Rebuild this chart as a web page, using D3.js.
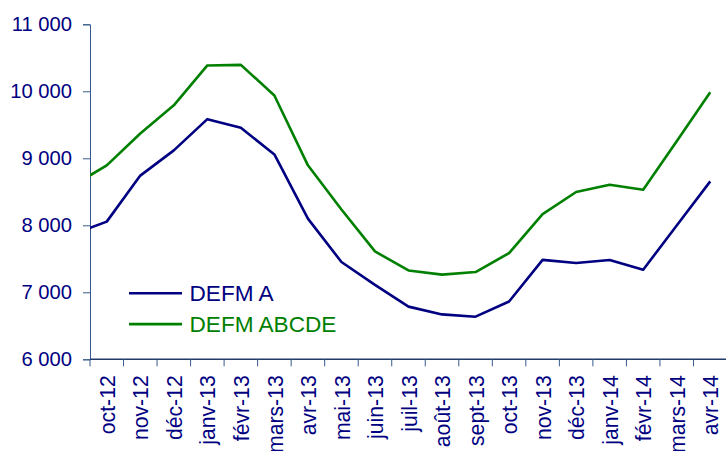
<!DOCTYPE html>
<html><head><meta charset="utf-8">
<script src="https://cdn.jsdelivr.net/npm/d3@7"></script>
<style>body{margin:0;background:#fff}svg{display:block}text{font-family:"Liberation Sans",Arial,sans-serif}</style>
</head><body><svg id="c" width="726" height="451"></svg>
<script>
const categories = ["oct-12","nov-12","déc-12","janv-13","févr-13","mars-13","avr-13","mai-13","juin-13","juil-13","août-13","sept-13","oct-13","nov-13","déc-13","janv-14","févr-14","mars-14","avr-14"];
// value of the month preceding the first category (line enters from the left edge)
const leadIn = {A: 7865, ABCDE: 8595};
const defmA = [8055,8742,9118,9584,9455,9058,8100,7452,7110,6786,6670,6636,6862,7484,7437,7482,7336,7998,8656];
const defmABCDE = [8895,9370,9790,10386,10395,9938,8895,8235,7610,7326,7264,7302,7586,8168,8497,8605,8530,9255,9987];
const yTicks = [6000,7000,8000,9000,10000,11000];
const seriesNames = ["DEFM A","DEFM ABCDE"];
const colors = ["#000080","#008000"];
const axisColor = "#355a8a";

const svg = d3.select("#c");
const mLeft = 90, mRight = 727, mTop = 24.3, mBottom = 359.3;
const x = d3.scaleBand().domain(categories).range([mLeft, mRight]);
const bw = x.bandwidth();
const y = d3.scaleLinear().domain([6000, 11000]).range([mBottom, mTop]);
const fmt = v => d3.format(",")(v).replace(/,/g, " ");

// clip
svg.append("clipPath").attr("id","plot").append("rect")
  .attr("x", mLeft).attr("y", 0).attr("width", mRight - mLeft).attr("height", 451);

// y axis
const yAxis = svg.append("g").attr("transform", `translate(${mLeft},0)`)
  .call(d3.axisLeft(y).tickValues(yTicks).tickFormat(fmt).tickSize(7).tickPadding(11));
yAxis.select(".domain").attr("stroke", axisColor).attr("stroke-width", 1);
yAxis.selectAll(".tick line").attr("stroke", axisColor);
yAxis.selectAll(".tick text").attr("fill", "#000080").attr("font-size", 20.2)
  .style("font-family", '"Liberation Sans",Arial,sans-serif');

// x axis
const xg = svg.append("g");
xg.append("line").attr("x1", mLeft).attr("x2", 726).attr("y1", mBottom).attr("y2", mBottom)
  .attr("stroke", "#1f3a6b").attr("stroke-width", 1.5);
const bounds = categories.map(c => x(c)).concat([mRight]);
xg.selectAll("line.t").data(bounds).join("line").attr("class","t")
  .attr("x1", d => d).attr("x2", d => d).attr("y1", mBottom).attr("y2", mBottom + 7)
  .attr("stroke", axisColor);
xg.selectAll("text").data(categories).join("text")
  .attr("transform", d => `translate(${x(d) + bw/2 + 0.5},${mBottom + 16}) rotate(-90)`)
  .attr("text-anchor", "end").attr("dy", "0.36em")
  .attr("fill", "#000080").attr("font-size", 21.2).text(d => d);

// lines
const line = d3.line().x(d => d.x).y(d => y(d.v));
function pts(lead, vals) {
  const arr = [{x: x(categories[0]) - bw/2, v: lead}];
  vals.forEach((v, i) => arr.push({x: x(categories[i]) + bw/2, v}));
  return arr;
}
const series = [pts(leadIn.A, defmA), pts(leadIn.ABCDE, defmABCDE)];
svg.append("g").attr("clip-path", "url(#plot)").selectAll("path").data(series).join("path")
  .attr("d", line).attr("fill", "none")
  .attr("stroke", (d, i) => colors[i]).attr("stroke-width", 2.6)
  .attr("stroke-linejoin", "round");

// legend
const lg = svg.append("g");
seriesNames.forEach((n, i) => {
  const ly = 293.3 + i * 30.8;
  lg.append("line").attr("x1", 129).attr("x2", 182).attr("y1", ly).attr("y2", ly)
    .attr("stroke", colors[i]).attr("stroke-width", 2.6);
  lg.append("text").attr("x", 189.5).attr("y", ly).attr("dy", "0.36em")
    .attr("font-size", 22.6).attr("fill", colors[i]).text(n);
});
</script></body></html>
